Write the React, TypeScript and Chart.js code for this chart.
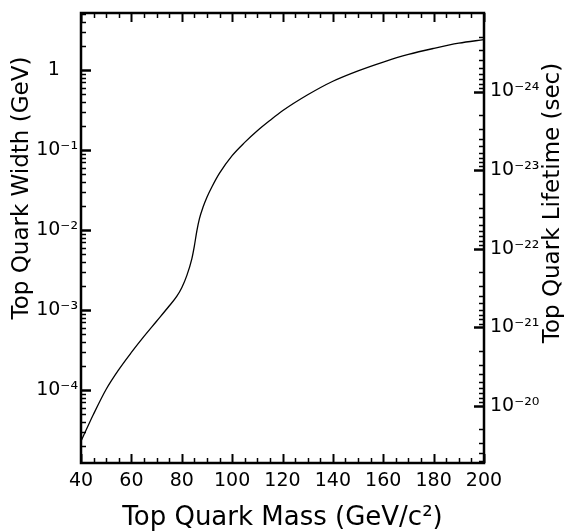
import React, { useEffect, useRef } from "react";
import { Chart, registerables } from "chart.js";

Chart.register(...registerables);

// Top quark mass (GeV/c^2)
const massValues = [40, 45, 50, 55, 60, 65, 70, 75, 78, 80, 82, 84, 85, 86, 87, 88.5, 90, 92, 95, 100, 105, 110, 115, 120, 130, 140, 150, 160, 170, 180, 190, 200];
// Top quark width (GeV)
const widthValues = [2.29e-5, 5.01e-5, 1.023e-4, 1.8e-4, 2.95e-4, 4.68e-4, 7.24e-4, 1.122e-3, 1.48e-3, 1.9e-3, 2.69e-3, 4.37e-3, 6.31e-3, 9.77e-3, 1.38e-2, 1.95e-2, 2.57e-2, 3.47e-2, 5.13e-2, 8.51e-2, 0.1245, 0.174, 0.234, 0.309, 0.49, 0.724, 0.977, 1.259, 1.567, 1.862, 2.163, 2.399];

const xMin = 40;
const xMax = 200;
const xStep = 20;
const widthMin = 1.224e-5;
const widthMax = 5.16;
const hbar = 6.582e-25; // GeV*s, lifetime = hbar / width

const widthTicks = [1e-4, 1e-3, 1e-2, 1e-1, 1];
const widthTickLabels = ["10\u207B\u2074", "10\u207B\u00B3", "10\u207B\u00B2", "10\u207B\u00B9", "1   "];
const lifeTicks = [1e-24, 1e-23, 1e-22, 1e-21, 1e-20];
const lifeTickLabels = ["10\u207B\u00B2\u2074", "10\u207B\u00B2\u00B3", "10\u207B\u00B2\u00B2", "10\u207B\u00B2\u00B9", "10\u207B\u00B2\u2070"];

const xTitle = "Top Quark Mass (GeV/c\u00B2)";
const yTitle = "Top Quark Width (GeV)";
const y2Title = "Top Quark Lifetime (sec)";

const FONT = "'DejaVu Sans', sans-serif";

const framePlugin = {
  id: "frameTicks",
  afterDatasetsDraw(chart: any) {
    const { ctx, chartArea } = chart;
    const { left, right, top, bottom } = chartArea;
    const xs = chart.scales.x;
    const ys = chart.scales.y;
    const y2 = chart.scales.y2;
    ctx.save();
    ctx.strokeStyle = "#000";
    const line = (x1: number, y1: number, x2: number, y2p: number, w: number) => {
      ctx.lineWidth = w;
      ctx.beginPath();
      ctx.moveTo(x1, y1);
      ctx.lineTo(x2, y2p);
      ctx.stroke();
    };
    for (let v = xMin; v <= xMax; v += 5) {
      const px = Math.round(xs.getPixelForValue(v)) + 0.5;
      const major = v % xStep === 0;
      const len = major ? 9 : 5;
      const w = major ? 2 : 1.5;
      line(px, bottom, px, bottom - len, w);
      line(px, top, px, top + len, w);
    }
    for (let e = -6; e <= 1; e++) {
      for (let m = 1; m <= 9; m++) {
        const v = m * Math.pow(10, e);
        if (v < widthMin || v > widthMax) continue;
        const py = Math.round(ys.getPixelForValue(v)) + 0.5;
        line(left, py, left + (m === 1 ? 10 : 5), py, m === 1 ? 2.5 : 1.5);
      }
    }
    const lifeMin = hbar / widthMax;
    const lifeMax = hbar / widthMin;
    for (let e = -26; e <= -19; e++) {
      for (let m = 1; m <= 9; m++) {
        const v = m * Math.pow(10, e);
        if (v < lifeMin || v > lifeMax) continue;
        const py = Math.round(y2.getPixelForValue(v)) + 0.5;
        line(right, py, right - (m === 1 ? 10 : 5), py, m === 1 ? 2.5 : 1.5);
      }
    }
    ctx.lineWidth = 2.5;
    ctx.strokeRect(left, top, right - left, bottom - top);
    ctx.fillStyle = "#000";
    ctx.font = `23px ${FONT}`;
    ctx.textAlign = "center";
    ctx.textBaseline = "middle";
    ctx.save();
    ctx.translate(22, 188);
    ctx.rotate(-Math.PI / 2);
    ctx.fillText(yTitle, 0, 0);
    ctx.restore();
    ctx.save();
    ctx.translate(553, 203);
    ctx.rotate(-Math.PI / 2);
    ctx.fillText(y2Title, 0, 0);
    ctx.restore();
    ctx.restore();
  },
};

export default function App() {
  const ref = useRef<HTMLCanvasElement | null>(null);
  useEffect(() => {
    if (!ref.current) return;
    const points = massValues.map((m, i) => ({ x: m, y: widthValues[i] }));
    const chart = new Chart(ref.current, {
      type: "line",
      data: {
        datasets: [
          {
            data: points,
            borderColor: "#000",
            borderWidth: 1.3,
            pointRadius: 0,
            fill: false,
            cubicInterpolationMode: "monotone",
            yAxisID: "y",
          },
        ],
      },
      options: {
        animation: false,
        responsive: false,
        events: [],
        layout: { padding: { top: 13, left: 0, right: 0, bottom: 0 } },
        plugins: { legend: { display: false }, tooltip: { enabled: false } },
        scales: {
          x: {
            type: "linear",
            position: "bottom",
            min: xMin,
            max: xMax,
            grid: { display: false, drawTicks: false },
            border: { display: false },
            ticks: {
              stepSize: xStep,
              color: "#000",
              font: { family: FONT, size: 19 },
              padding: 7,
              maxRotation: 0,
              autoSkip: false,
            },
            title: {
              display: true,
              text: xTitle,
              color: "#000",
              font: { family: FONT, size: 26 },
              padding: { top: 0, bottom: -3 },
            },
            afterFit: (s: any) => {
              s.height = 68;
              s.paddingLeft = 0;
              s.paddingRight = 0;
            },
          },
          y: {
            type: "logarithmic",
            position: "left",
            min: widthMin,
            max: widthMax,
            grid: { display: false, drawTicks: false },
            border: { display: false },
            afterBuildTicks: (s: any) => {
              s.ticks = widthTicks.map((v) => ({ value: v }));
            },
            ticks: {
              color: "#000",
              font: { family: FONT, size: 19 },
              padding: 3,
              autoSkip: false,
              callback: (v: any) => {
                const i = widthTicks.findIndex((t) => Math.abs(Math.log10(t) - Math.log10(Number(v))) < 1e-6);
                return i >= 0 ? widthTickLabels[i] : "";
              },
            },
            afterFit: (s: any) => {
              s.width = 81;
              s.paddingTop = 0;
              s.paddingBottom = 0;
            },
          },
          y2: {
            type: "logarithmic",
            position: "right",
            reverse: true,
            min: hbar / widthMax,
            max: hbar / widthMin,
            grid: { display: false, drawTicks: false },
            border: { display: false },
            afterBuildTicks: (s: any) => {
              s.ticks = lifeTicks.map((v) => ({ value: v }));
            },
            ticks: {
              color: "#000",
              font: { family: FONT, size: 19 },
              padding: 6,
              autoSkip: false,
              callback: (v: any) => {
                const i = lifeTicks.findIndex((t) => Math.abs(Math.log10(t) - Math.log10(Number(v))) < 1e-6);
                return i >= 0 ? lifeTickLabels[i] : "";
              },
            },
            afterFit: (s: any) => {
              s.width = 82;
              s.paddingTop = 0;
              s.paddingBottom = 0;
            },
          },
        },
      },
      plugins: [framePlugin],
    } as any);
    return () => chart.destroy();
  }, []);
  return (
    <div style={{ position: "fixed", left: 0, top: 0, width: 566, height: 531, background: "#fff" }}>
      <canvas ref={ref} width={566} height={531} style={{ display: "block" }} />
    </div>
  );
}
